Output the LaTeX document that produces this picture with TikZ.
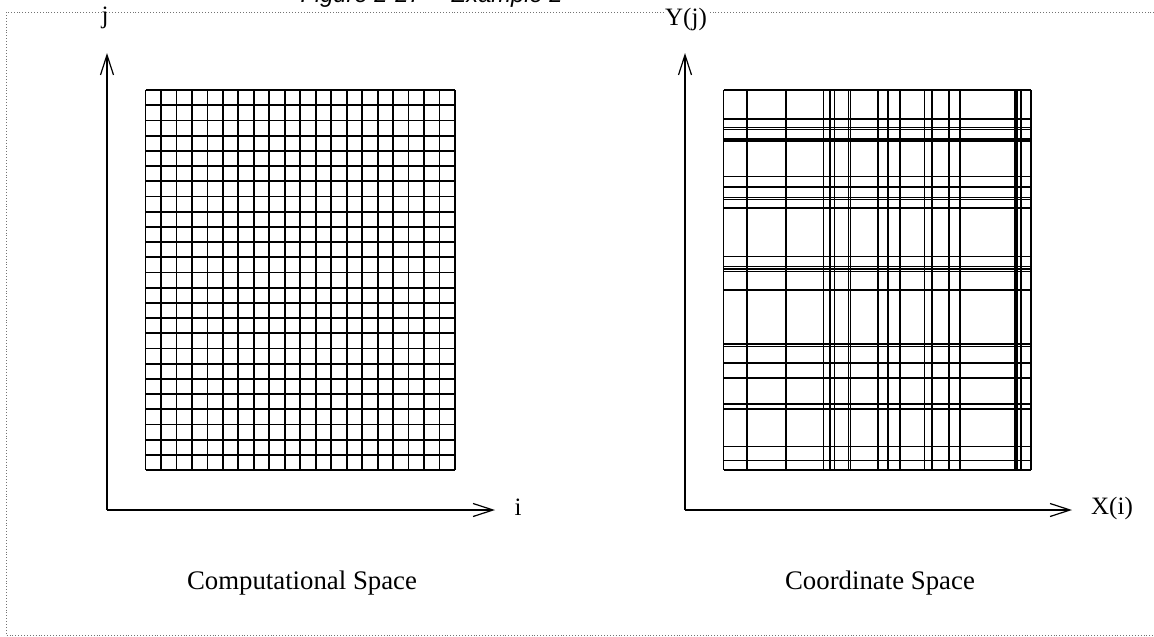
\documentclass[tikz,border=0pt]{standalone}
\usepackage{fontspec}
\setmainfont{Liberation Serif}
\newfontfamily\titlefont{Liberation Sans}
\usetikzlibrary{arrows.meta,positioning}
\tikzset{
  >={Straight Barb[length=20pt,width=13pt,line width=1.2pt]},
  axis/.style={->,line width=1.2pt},
  gridline/.style={line width=1.8pt},
  frameline/.style={dotted,line width=0.9pt,black!55},
  axislabel/.style={font=\fontsize{25}{28}\selectfont,inner sep=1pt},
  caption/.style={font=\fontsize{26.8}{30}\selectfont},
}

\begin{document}
\begin{tikzpicture}[x=1pt,y=-1pt]
  \useasboundingbox (0,0) rectangle (1154,637);
  % dotted frame, open to the right
  \draw[frameline] (1160,12) -- (6,12) -- (6,635) -- (1160,635);
  \node[font=\titlefont\itshape\fontsize{23.7}{26}\selectfont,anchor=base west] (title) at (297,2) {Figure 2-27 -- Example 2};

  % computational space
  \coordinate (c0) at (107,510);
  \coordinate (cx) at (495,510);
  \coordinate (cy) at (107,53);
  \draw[axis] (c0) -- (cy);
  \draw[axis] (c0) -- (cx);
  \node[axislabel] (ci) at (518,507) {i};
  \node[axislabel] (cj) at (105,18) {j};
  \foreach \k in {0,...,20}
    \draw[gridline] ({145.5+\k*15.475},90) -- ({145.5+\k*15.475},470);
  \foreach \k in {0,...,25}
    \draw[gridline] (145.5,{90+\k*15.2}) -- (455,{90+\k*15.2});
  \node[caption] (ccap) at (302,583) {Computational Space};

  % coordinate space
  \coordinate (p0) at (685,510);
  \coordinate (px) at (1072,510);
  \coordinate (py) at (685,53);
  \draw[axis] (p0) -- (py);
  \draw[axis] (p0) -- (px);
  \node[axislabel] (pi) at (1112,508) {X(i)};
  \node[axislabel,fill=white] (pj) at (686,19) {Y(j)};
  \foreach \x in {723.5,747,786,823.5,830,834.5,848.5,850.5,878,888,900,924.5,932,949,960,1015,1017,1021,1031}
    \draw[gridline] (\x,90) -- (\x,470);
  \foreach \y in {90,119,127.5,129.5,139,141,176.5,187,197.5,199.5,208,256.5,266.5,269,271.5,290,344,346.5,363,378,404,409,446.5,460.5,470}
    \draw[gridline] (723.5,\y) -- (1031,\y);
  \node[caption] (pcap) at (880,583) {Coordinate Space};
\end{tikzpicture}
\end{document}
